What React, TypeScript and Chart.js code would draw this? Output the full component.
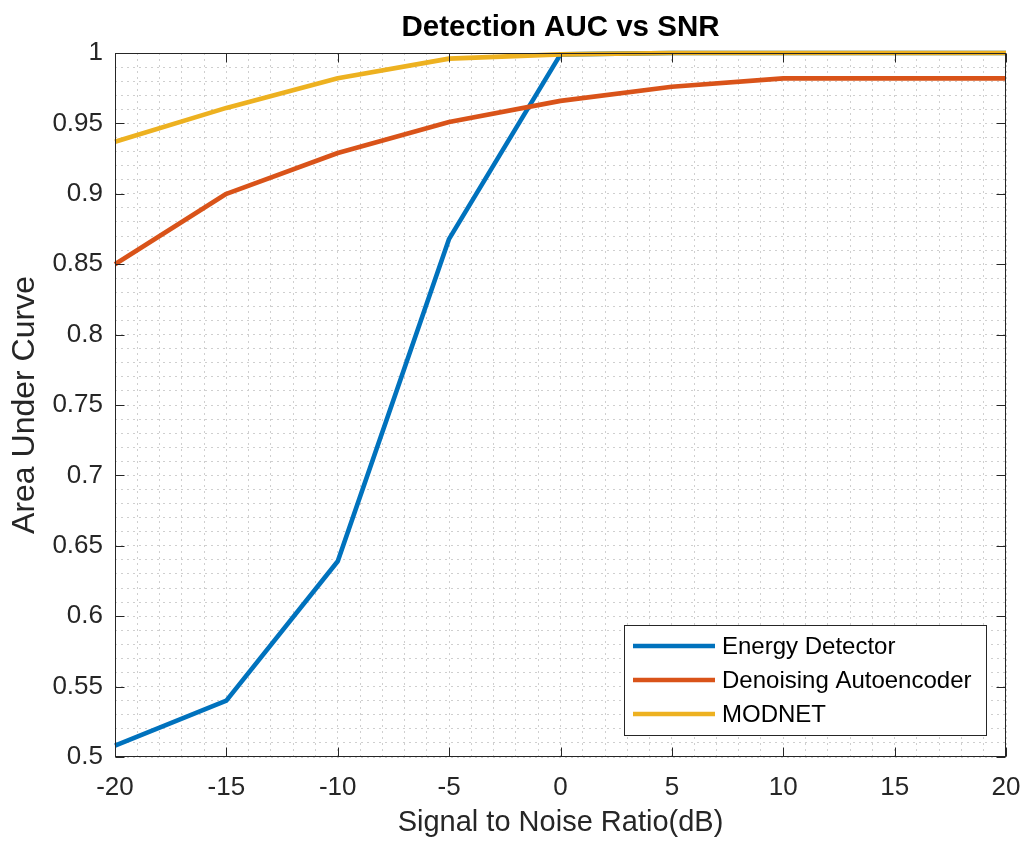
import React, { useEffect, useRef } from "react";
import { Chart, registerables } from "chart.js";

Chart.register(...registerables);

// ---- data ----
const snr = [-20, -15, -10, -5, 0, 5, 10, 15, 20];
const energyDetector = [0.508, 0.54, 0.639, 0.868, 0.999, 1.0, 1.0, 1.0, 1.0];
const denoisingAutoencoder = [0.85, 0.9, 0.929, 0.951, 0.966, 0.976, 0.982, 0.982, 0.982];
const modnet = [0.937, 0.961, 0.982, 0.996, 0.999, 1.0, 1.0, 1.0, 1.0];
const seriesNames = ["Energy Detector", "Denoising Autoencoder", "MODNET"];
const seriesColors = ["#0072BD", "#D95319", "#EDB120"];
const xMajorTicks = [-20, -15, -10, -5, 0, 5, 10, 15, 20];
const yMajorTicks = [0.5, 0.55, 0.6, 0.65, 0.7, 0.75, 0.8, 0.85, 0.9, 0.95, 1];

const titleText = "Detection AUC vs SNR";
const xTitle = "Signal to Noise Ratio(dB)";
const yTitle = "Area Under Curve";

const FONT = '"Liberation Sans", Arial, Helvetica, sans-serif';
const AXIS_COLOR = "#262626";
const GRID_COLOR = "#cfcfcf";
const LINE_W = 4.6;

const toPoints = (ys: number[]) => snr.map((x, i) => ({ x, y: ys[i] }));

const matlabAxesPlugin = {
  id: "matlabAxes",
  afterDatasetsDraw(chart: any) {
    const { ctx, chartArea: a, scales } = chart;
    const xs = scales.x;
    const ys = scales.y;
    const L = Math.round(a.left) + 0.5;
    const R = Math.round(a.right) - 0.5;
    const T = Math.round(a.top) + 0.5;
    const B = Math.round(a.bottom) - 0.5;
    const tl = 9;
    ctx.save();
    ctx.setLineDash([]);
    ctx.strokeStyle = AXIS_COLOR;
    ctx.lineWidth = 1;
    ctx.beginPath();
    xMajorTicks.forEach((v) => {
      const px = Math.round(xs.getPixelForValue(v)) + 0.5;
      ctx.moveTo(px, B);
      ctx.lineTo(px, B - tl);
      ctx.moveTo(px, T);
      ctx.lineTo(px, T + tl);
    });
    yMajorTicks.forEach((v) => {
      const py = Math.round(ys.getPixelForValue(v)) + 0.5;
      ctx.moveTo(L, py);
      ctx.lineTo(L + tl, py);
      ctx.moveTo(R, py);
      ctx.lineTo(R - tl, py);
    });
    ctx.stroke();
    ctx.strokeRect(L, T, R - L, B - T);
    ctx.restore();
  },
  afterDraw(chart: any) {
    // legend inside the axes, lower right
    const { ctx, chartArea: a } = chart;
    const boxW = 362;
    const boxH = 110;
    const right = a.right - 20;
    const bottom = a.bottom - 22;
    const left = right - boxW;
    const top = bottom - boxH;
    ctx.save();
    ctx.fillStyle = "#ffffff";
    ctx.fillRect(left, top, boxW, boxH);
    ctx.strokeStyle = AXIS_COLOR;
    ctx.lineWidth = 1;
    ctx.setLineDash([]);
    ctx.strokeRect(Math.round(left) + 0.5, Math.round(top) + 0.5, boxW, boxH);
    ctx.font = `24px ${FONT}`;
    ctx.textBaseline = "middle";
    ctx.textAlign = "left";
    chart.data.datasets.forEach((ds: any, i: number) => {
      const y = top + 21 + i * 34;
      ctx.strokeStyle = ds.borderColor;
      ctx.lineWidth = LINE_W;
      ctx.beginPath();
      ctx.moveTo(left + 9, y);
      ctx.lineTo(left + 91, y);
      ctx.stroke();
      ctx.fillStyle = "#000000";
      ctx.fillText(ds.label, left + 98, y + 1);
    });
    ctx.restore();
  },
};

export default function App() {
  const canvasRef = useRef<HTMLCanvasElement | null>(null);

  useEffect(() => {
    const canvas = canvasRef.current;
    if (!canvas) return;
    const datasets = [energyDetector, denoisingAutoencoder, modnet].map((vals, i) => ({
      label: seriesNames[i],
      data: toPoints(vals),
      borderColor: seriesColors[i],
      backgroundColor: seriesColors[i],
      borderWidth: LINE_W,
      pointRadius: 0,
      pointHoverRadius: 0,
      tension: 0,
      fill: false,
      clip: false as any,
      borderJoinStyle: "round" as const,
      order: 2 - i,
    }));

    const chart = new Chart(canvas, {
      type: "line",
      data: { datasets },
      plugins: [matlabAxesPlugin],
      options: {
        responsive: false,
        animation: false,
        layout: { padding: { left: 0, right: 24, top: 0, bottom: 0 } },
        plugins: {
          legend: { display: false },
          tooltip: { enabled: false },
          title: {
            display: true,
            text: titleText,
            fullSize: false,
            color: "#000000",
            font: { family: FONT, size: 29.5, weight: "bold" },
            padding: { top: 10.3, bottom: 7.3 },
          },
        },
        scales: {
          x: {
            type: "linear",
            min: -20,
            max: 20,
            afterFit: (s: any) => {
              s.height = 92;
              s.paddingLeft = 0;
              s.paddingRight = 0;
            },
            ticks: {
              stepSize: 1,
              autoSkip: false,
              maxRotation: 0,
              minRotation: 0,
              maxTicksLimit: 1000,
              padding: 15.4,
              color: AXIS_COLOR,
              font: { family: FONT, size: 26 },
              callback: (v: any) => {
                const n = Math.round(Number(v));
                return n % 5 === 0 ? String(n) : "";
              },
            },
            grid: {
              display: true,
              drawTicks: false,
              color: GRID_COLOR,
              lineWidth: 1,
            },
            border: { display: false, dash: [2, 4] },
            title: {
              display: true,
              text: xTitle,
              color: AXIS_COLOR,
              font: { family: FONT, size: 29 },
              padding: { top: 0, bottom: 8.6 },
            },
          },
          y: {
            type: "linear",
            min: 0.5,
            max: 1,
            afterFit: (s: any) => {
              s.width = 115;
              s.paddingTop = 0;
              s.paddingBottom = 0;
            },
            ticks: {
              stepSize: 0.01,
              autoSkip: false,
              maxTicksLimit: 1000,
              padding: 12,
              color: AXIS_COLOR,
              font: { family: FONT, size: 26 },
              callback: (v: any) => {
                const n = Math.round(Number(v) * 100);
                return n % 5 === 0 ? String(n / 100) : "";
              },
            },
            grid: {
              display: true,
              drawTicks: false,
              color: GRID_COLOR,
              lineWidth: 1,
            },
            border: { display: false, dash: [2, 4] },
            title: {
              display: true,
              text: yTitle,
              color: AXIS_COLOR,
              font: { family: FONT, size: 32 },
              padding: { top: 5.8, bottom: 0 },
            },
          },
        },
      },
    });
    return () => chart.destroy();
  }, []);

  return (
    <div style={{ position: "fixed", left: 0, top: 0, width: 1030, height: 849, background: "#fff" }}>
      <canvas ref={canvasRef} width={1030} height={849} style={{ width: 1030, height: 849, display: "block" }} />
    </div>
  );
}
